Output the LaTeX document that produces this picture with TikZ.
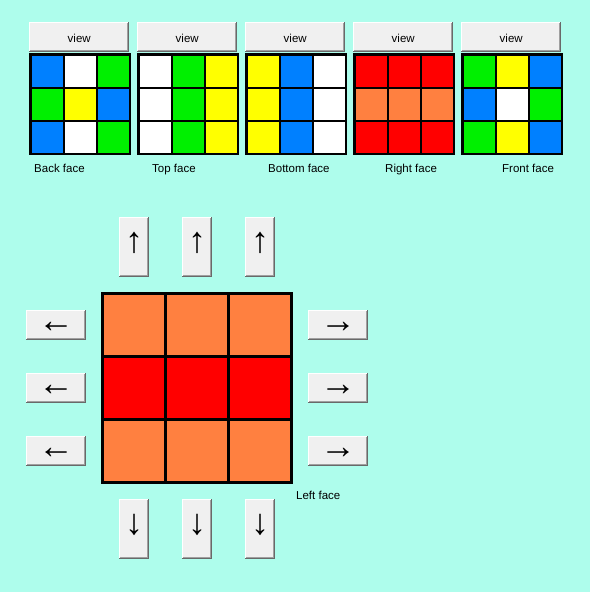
\documentclass[tikz,border=0pt]{standalone}
\usepackage{fontspec}
\setmainfont{Liberation Sans}
\definecolor{bg}{RGB}{174,253,236}
\definecolor{cb}{RGB}{0,128,255}
\definecolor{cg}{RGB}{0,240,0}
\definecolor{cy}{RGB}{255,255,0}
\definecolor{cw}{RGB}{255,255,255}
\definecolor{cr}{RGB}{255,0,0}
\definecolor{co}{RGB}{255,128,64}
\definecolor{btnface}{RGB}{240,240,240}
\definecolor{btnshadow}{RGB}{160,160,160}
\definecolor{btndark}{RGB}{105,105,105}
\tikzset{
  btnbody/.style={fill=btnface, draw=none, inner sep=0pt, anchor=north west},
  lbl/.style={inner sep=0pt, anchor=base west, font=\fontsize{11.5}{13}\selectfont},
  btncaption/.style={inner sep=0pt, anchor=base, font=\fontsize{11.5}{13}\selectfont},
  arr/.style={inner sep=0pt, anchor=center, font=\fontsize{36}{38}\selectfont},
  gridbox/.style={fill=black, draw=none, inner sep=0pt, anchor=north west},
}
% button body: name, left, top, width, height
\newcommand\mybtn[5]{%
  \node[btnbody, minimum width=#4pt, minimum height=#5pt] (#1) at (#2,#3) {};
  \draw[white, line width=1pt] ([xshift=0.5pt,yshift=1pt]#1.south west) -- ([xshift=0.5pt,yshift=-0.5pt]#1.north west) -- ([xshift=-1pt,yshift=-0.5pt]#1.north east);
  \draw[btndark, line width=1pt] ([yshift=0.5pt]#1.south west) -- ([xshift=-0.5pt,yshift=0.5pt]#1.south east) -- ([xshift=-0.5pt]#1.north east);
  \draw[btnshadow, line width=1pt] ([xshift=1pt,yshift=1.5pt]#1.south west) -- ([xshift=-1.5pt,yshift=1.5pt]#1.south east) -- ([xshift=-1.5pt,yshift=-1pt]#1.north east);
}
% small face: name, left x, 9 colours
\newcommand\facesmall[3]{%
  \node[gridbox, minimum width=102pt, minimum height=102pt] (#1) at (#2,53) {};
  \foreach \c [count=\i from 0] in {#3} {
    \pgfmathtruncatemacro\rw{\i/3}
    \pgfmathtruncatemacro\cl{mod(\i,3)}
    \fill[\c] ({#2+2.5+33*\cl},{53+2.5+33*\rw}) rectangle ++(31,31);
  }%
}
\begin{document}
\begin{tikzpicture}[x=1pt,y=-1pt]
\useasboundingbox (0,0) rectangle (590,592);
\fill[bg] (0,0) rectangle (590,592);

% top view buttons
\foreach \px [count=\k] in {29,137,245,353,461} {
  \mybtn{vb\k}{\px}{22}{100}{30}
  \node[btncaption] (vt\k) at ([yshift=-5.5pt]vb\k.center) {view};
}

\facesmall{back}{29}{cb,cw,cg,cg,cy,cb,cb,cw,cg}
\facesmall{top}{137}{cw,cg,cy,cw,cg,cy,cw,cg,cy}
\facesmall{bottom}{245}{cy,cb,cw,cy,cb,cw,cy,cb,cw}
\facesmall{right}{353}{cr,cr,cr,co,co,co,cr,cr,cr}
\facesmall{front}{461}{cg,cy,cb,cb,cw,cg,cg,cy,cb}

\node[lbl] (lback) at (34,172) {Back face};
\node[lbl] (ltop) at (152,172) {Top face};
\node[lbl] (lbottom) at (268,172) {Bottom face};
\node[lbl] (lright) at (385,172) {Right face};
\node[lbl] (lfront) at (502,172) {Front face};

% main face
\node[gridbox, minimum width=192pt, minimum height=192pt] (main) at (101,292) {};
\foreach \c [count=\i from 0] in {co,co,co,cr,cr,cr,co,co,co} {
  \pgfmathtruncatemacro\rw{\i/3}
  \pgfmathtruncatemacro\cl{mod(\i,3)}
  \fill[\c] ({104+63*\cl},{295+63*\rw}) rectangle ++(60,60);
}
\node[lbl] (lleft) at (296,499) {Left face};

% up / down buttons
\foreach \k in {0,1,2} {
  \pgfmathsetmacro\bx{119+63*\k}
  \pgfmathsetmacro\ax{134+63*\k}
  \mybtn{ub\k}{\bx}{217}{30}{60}
  \node[arr] (ua\k) at (\ax,243) {↑};
  \mybtn{db\k}{\bx}{499}{30}{60}
  \node[arr] (da\k) at (\ax,525) {↓};
}
% left / right buttons
\foreach \k in {0,1,2} {
  \pgfmathsetmacro\by{310+63*\k}
  \pgfmathsetmacro\ay{327+63*\k}
  \mybtn{lb\k}{26}{\by}{60}{30}
  \node[arr] (la\k) at (56,\ay) {←};
  \mybtn{rb\k}{308}{\by}{60}{30}
  \node[arr] (ra\k) at (338,\ay) {→};
}
\end{tikzpicture}
\end{document}
